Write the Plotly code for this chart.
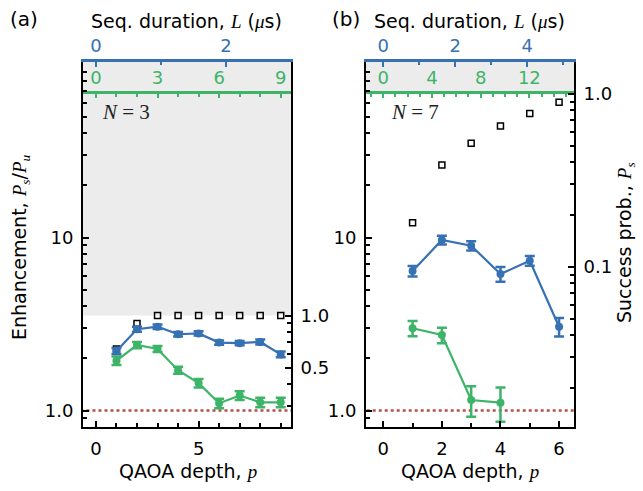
import math
import plotly.graph_objects as go

W, H = 643, 491

# ---------------- data ----------------
# Panel (a): N = 3
p_a = [1, 2, 3, 4, 5, 6, 7, 8, 9]
enh_blue_a = [2.21, 2.95, 3.05, 2.76, 2.79, 2.47, 2.45, 2.49, 2.11]
err_blue_a = [0.09, 0.10, 0.09, 0.08, 0.08, 0.07, 0.07, 0.08, 0.08]
enh_green_a = [1.94, 2.39, 2.27, 1.71, 1.44, 1.10, 1.22, 1.115, 1.115]
err_green_a = [0.11, 0.10, 0.09, 0.08, 0.08, 0.07, 0.07, 0.07, 0.07]
ps_ideal_a = [0.64, 0.90, 1.0, 1.0, 1.0, 1.0, 1.0, 1.0, 1.0]
max_enh_a = 3.54   # 1/P_u for N = 3

# Panel (b): N = 7
p_b = [1, 2, 3, 4, 5, 6]
enh_blue_b = [6.40, 9.67, 8.97, 6.15, 7.34, 3.05]
err_blue_b = [0.44, 0.57, 0.55, 0.60, 0.47, 0.37]
p_green_b = [1, 2, 3, 4]
enh_green_b = [2.99, 2.73, 1.15, 1.11]
err_green_b = [0.30, 0.28, 0.23, 0.25]
ps_ideal_b = [0.179, 0.387, 0.516, 0.649, 0.767, 0.891]
max_enh_b = 67.9   # 1/P_u for N = 7

# axis ranges / ticks
p_range_a = [-0.63, 9.5]
blue_range_a = [-0.2, 3.0]
green_range_a = [-0.63, 9.5]
p_range_b = [-0.59, 6.51]
blue_range_b = [-0.48, 5.3]
green_range_b = [-1.42, 15.67]
enh_log_range = [-0.0954, 2.0146]

p_ticks_a = [0, 5]
p_ticks_b = [0, 2, 4, 6]
blue_ticks_a = [0, 2]
blue_ticks_b = [0, 2, 4]
green_ticks_a = [0, 3, 6, 9]
green_ticks_b = [0, 4, 8, 12]
enh_ticks = [1, 10]
enh_ticktext = ["1.0", "10"]
enh_minor = [0.9] + [v for v in range(2, 10)] + [10 * v for v in range(2, 10)]
ps_ticks_a = [0.5, 1.0]
ps_ticktext_a = ["0.5", "1.0"]
ps_minor_a = [0.3, 0.4, 0.6, 0.7, 0.8, 0.9]
ps_ticks_b = [0.1, 1.0]
ps_ticktext_b = ["0.1", "1.0"]
ps_minor_b = [v / 100 for v in range(2, 10)] + [v / 10 for v in range(2, 10)]

BLUE = "#3671b3"
GREEN = "#3db468"
RED = "#b5504c"
GRAY = "#ececec"
FONT = "DejaVu Sans"
SERIF = "Liberation Serif"
FS = 18

# ---------------- geometry (pixels -> paper) ----------------
def px(x):
    return x / W

def py(y):
    return 1 - y / H

dom_y = [py(427), py(62)]
dom_xa = [px(83), px(291)]
dom_xb = [px(366), px(574)]
green_pos = py(91.7)

fig = go.Figure()

def add_panel(xa, ya, ya2, xblue, xgreen, p, eb, ebe, p_g, eg, ege, ps,
              max_enh, prange):
    # gray region: success probability above 1 (enhancement above 1/P_u)
    fig.add_trace(go.Scatter(
        x=[prange[0] - 1, prange[1] + 1, prange[1] + 1, prange[0] - 1],
        y=[max_enh, max_enh, 1e5, 1e5], xaxis=xa, yaxis=ya,
        mode="lines", line=dict(width=0), fill="toself", fillcolor=GRAY,
        hoverinfo="skip"))
    # enhancement = 1 reference
    fig.add_trace(go.Scatter(
        x=[prange[0] - 1, prange[1] + 1], y=[1, 1], xaxis=xa, yaxis=ya,
        mode="lines", line=dict(color=RED, width=2.5, dash="dot"),
        hoverinfo="skip"))
    # ideal success probability, drawn in enhancement units (P_s / P_u)
    fig.add_trace(go.Scatter(
        x=p, y=[v * max_enh for v in ps], xaxis=xa, yaxis=ya,
        mode="markers",
        marker=dict(symbol="square-open", size=6, color="black",
                    line=dict(width=1.5, color="black"))))
    fig.add_trace(go.Scatter(
        x=p_g, y=eg, xaxis=xa, yaxis=ya, mode="lines+markers",
        line=dict(color=GREEN, width=2.2),
        marker=dict(symbol="circle", size=8, color=GREEN),
        error_y=dict(type="data", array=ege, color=GREEN, thickness=2.5,
                     width=5)))
    fig.add_trace(go.Scatter(
        x=p, y=eb, xaxis=xa, yaxis=ya, mode="lines+markers",
        line=dict(color=BLUE, width=2.2),
        marker=dict(symbol="circle", size=8, color=BLUE),
        error_y=dict(type="data", array=ebe, color=BLUE, thickness=2.5,
                     width=5)))
    # anchor traces so the secondary axes get drawn
    for xx, yy in [(xa, ya2), (xblue, ya), (xgreen, ya)]:
        fig.add_trace(go.Scatter(x=[None], y=[None], xaxis=xx, yaxis=yy,
                                 mode="markers", hoverinfo="skip"))


add_panel("x", "y", "y2", "x2", "x3", p_a, enh_blue_a, err_blue_a, p_a,
          enh_green_a, err_green_a, ps_ideal_a, max_enh_a, p_range_a)
add_panel("x4", "y3", "y4", "x5", "x6", p_b, enh_blue_b, err_blue_b,
          p_green_b, enh_green_b, err_green_b, ps_ideal_b, max_enh_b,
          p_range_b)

tickfont = dict(family=FONT, size=FS, color="black")


def xbottom(domain, rng, ticks, anchor):
    return dict(domain=domain, range=rng, anchor=anchor, showgrid=False,
                zeroline=False, showline=True, linecolor="black",
                linewidth=2, ticks="inside", ticklen=6, tickwidth=1.5,
                tickcolor="black", tickvals=ticks, tickfont=tickfont,
                ticklabelstandoff=4,
                minor=dict(ticks="inside", dtick=1, ticklen=4,
                           tickwidth=1.5, tickcolor="black"))


def xtop(over, domain, rng, ticks, color, anchor, position=None):
    d = dict(overlaying=over, domain=domain, side="top", range=rng,
             anchor=anchor,
             showgrid=False, zeroline=False, showline=True,
             linecolor=color, linewidth=2.5, ticks="inside", ticklen=5,
             tickwidth=1.5, tickcolor=color, tickvals=ticks,
             tickfont=dict(family=FONT, size=FS, color=color),
             ticklabelstandoff=0,
             minor=dict(ticks="inside", dtick=1, ticklen=3.5,
                        tickwidth=1.5, tickcolor=color))
    if position is not None:
        d["position"] = position
    return d


def yleft(anchor):
    return dict(domain=dom_y, type="log", range=enh_log_range,
                anchor=anchor, showgrid=False, zeroline=False,
                showline=True, linecolor="black", linewidth=2,
                ticks="inside", ticklen=6, tickwidth=1.5, tickcolor="black",
                tickvals=enh_ticks, ticktext=enh_ticktext, tickfont=tickfont,
                ticklabelstandoff=4,
                minor=dict(ticks="inside", tickvals=enh_minor, ticklen=4,
                           tickwidth=1.5, tickcolor="black"))


def yright(over, anchor, max_enh, ticks, text, minor):
    off = math.log10(max_enh)
    return dict(overlaying=over, domain=dom_y, side="right", type="log",
                range=[enh_log_range[0] - off, enh_log_range[1] - off],
                anchor=anchor, showgrid=False, zeroline=False,
                showline=True, linecolor="black", linewidth=2,
                ticks="inside", ticklen=6, tickwidth=1.5, tickcolor="black",
                tickvals=ticks, ticktext=text, tickfont=tickfont,
                ticklabelstandoff=4,
                minor=dict(ticks="inside", tickvals=minor, ticklen=4,
                           tickwidth=1.5, tickcolor="black"))


fig.update_layout(
    width=W, height=H, margin=dict(l=0, r=0, t=0, b=0),
    paper_bgcolor="white", plot_bgcolor="white", showlegend=False,
    font=dict(family=FONT, size=FS, color="black"),
    xaxis=xbottom(dom_xa, p_range_a, p_ticks_a, "y"),
    yaxis=yleft("x"),
    yaxis2=yright("y", "x", max_enh_a, ps_ticks_a, ps_ticktext_a, ps_minor_a),
    xaxis2=xtop("x", dom_xa, blue_range_a, blue_ticks_a, BLUE, "y"),
    xaxis3=xtop("x", dom_xa, green_range_a, green_ticks_a, GREEN, "free",
                green_pos),
    xaxis4=xbottom(dom_xb, p_range_b, p_ticks_b, "y3"),
    yaxis3=yleft("x4"),
    yaxis4=yright("y3", "x4", max_enh_b, ps_ticks_b, ps_ticktext_b, ps_minor_b),
    xaxis5=xtop("x4", dom_xb, blue_range_b, blue_ticks_b, BLUE, "y3"),
    xaxis6=xtop("x4", dom_xb, green_range_b, green_ticks_b, GREEN, "free",
                green_pos),
)

def it(s):
    return f'<span style="font-family:{SERIF}"><i>{s}</i></span>'

def sub(s):
    return f'<sub><span style="font-family:{SERIF}"><i>{s}</i></span></sub>'

annots = [
    ("(a)", 24, 19, 0, 20),
    ("(b)", 346, 19, 0, 20),
    (f"Seq. duration, {it('L')} ({it('μ')}s)", 186, 21, 0, FS + 1),
    (f"Seq. duration, {it('L')} ({it('μ')}s)", 469, 21, 0, FS + 1),
    (f"QAOA depth, {it('p')}", 188, 471, 0, FS + 1),
    (f"QAOA depth, {it('p')}", 470, 471, 0, FS + 1),
    (f"Enhancement, {it('P')}{sub('s')}/{it('P')}{sub('u')}", 20, 247, -90, FS + 1),
    (f"Success prob., {it('P')}{sub('s')}", 625, 243, -90, FS + 1),
]
for text, x, y, ang, size in annots:
    fig.add_annotation(text=text, x=px(x), y=py(y), xref="paper",
                       yref="paper", showarrow=False, textangle=ang,
                       xanchor="center", yanchor="middle",
                       font=dict(family=FONT, size=size, color="black"))

for label, x in [("3", 126), ("7", 415)]:
    fig.add_annotation(
        text=f'<i>N</i> = {label}',
        x=px(x), y=py(112), xref="paper", yref="paper", showarrow=False,
        xanchor="center", yanchor="middle",
        font=dict(family=SERIF, size=21, color="#222222"))

fig.write_html("out.html",
               config={"displayModeBar": False},
               post_script="document.body.style.margin='0';"
                           "document.body.style.padding='0';")
